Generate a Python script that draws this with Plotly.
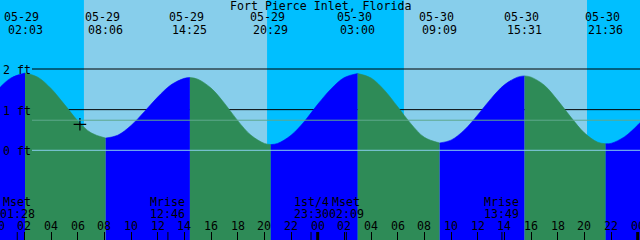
import plotly.graph_objects as go

# ---------------- data ----------------
title_text = "Fort Pierce Inlet, Florida"

# tide extremes
tide_dates = ["05-29", "05-29", "05-29", "05-29", "05-30", "05-30", "05-30", "05-30"]
tide_times = ["02:03", "08:06", "14:25", "20:29", "03:00", "09:09", "15:31", "21:36"]
tide_heights = [1.90, 0.30, 1.79, 0.14, 1.89, 0.18, 1.83, 0.16]

# hourly water level readings (hours since 05-29 00:00, feet)
level_hours = [-1, 0, 1, 2, 3, 4, 5, 6, 7, 8, 9, 10, 11, 12, 13, 14, 15, 16, 17, 18,
               19, 20, 21, 22, 23, 24, 25, 26, 27, 28, 29, 30, 31, 32, 33, 34, 35, 36,
               37, 38, 39, 40, 41, 42, 43, 44, 45, 46, 47, 48, 48.5]
level_feet = [1.10, 1.49, 1.78, 1.90, 1.80, 1.52, 1.13, 0.73, 0.43, 0.30, 0.37, 0.61,
              0.95, 1.31, 1.61, 1.77, 1.75, 1.53, 1.16, 0.73, 0.37, 0.17, 0.17, 0.37,
              0.71, 1.13, 1.51, 1.79, 1.89, 1.78, 1.48, 1.07, 0.65, 0.32, 0.18, 0.25,
              0.50, 0.87, 1.27, 1.61, 1.80, 1.80, 1.60, 1.23, 0.81, 0.43, 0.20, 0.17,
              0.33, 0.62, 0.80]

# current time / level marker
now_time = "05-29 06:10"
now_level = 0.64

# sun events (sunrise, sunset, sunrise, sunset)
sun_times = ["05-29 06:28", "05-29 20:13", "05-30 06:28", "05-30 20:12"]

# moon events
moon_labels = ["Mset", "Mrise", "1st/4", "Mset", "Mrise"]
moon_times = ["05-29 01:28", "05-29 12:46", "05-29 23:30", "05-30 02:09", "05-30 13:49"]

# axis ticks
tick_hours = list(range(0, 49, 2))
tick_labels = ["00", "02", "04", "06", "08", "10", "12", "14", "16", "18", "20", "22",
               "00", "02", "04", "06", "08", "10", "12", "14", "16", "18", "20", "22", "00"]
midnight_hours = [0, 24, 48]

# level reference lines
ft_levels = [2, 1, 0]
ft_labels = ["2 ft", "1 ft", "0 ft"]
msl_level = 0.74

# ---------------- helpers / style ----------------
W, H = 640, 240
PXH = 13.333          # pixels per hour
X0PX = -2.3           # pixel of 05-29 00:00
x_range = [(0 - X0PX) / PXH, (W - X0PX) / PXH]
PXF = 40.65           # pixels per foot
Y0PX = 150.3          # pixel of 0 ft
y_range = [(Y0PX - H) / PXF, Y0PX / PXF]

NIGHT = "#00BFFF"
DAY = "#87CEEB"
FLOOD = "#0000FF"
EBB = "#2E8B57"
FONT = "DejaVu Sans Mono"
FS = 11.6


def hours(stamp):
    d, t = stamp.split(" ")
    day = int(d.split("-")[1]) - 29
    hh, mm = t.split(":")
    return day * 24 + int(hh) + int(mm) / 60.0


def ypaper(px):
    return 1 - px / H


def xpaper(h):
    return (h - x_range[0]) / (x_range[1] - x_range[0])


ext_hours = [hours(d + " " + t) for d, t in zip(tide_dates, tide_times)]

# merge readings with extremes
pts = {}
for h, v in zip(level_hours, level_feet):
    if all(abs(h - e) > 0.2 for e in ext_hours):
        pts[h] = v
for h, v in zip(ext_hours, tide_heights):
    pts[h] = v
xs = sorted(pts)

fig = go.Figure()

# sky bands
sun_h = [hours(s) for s in sun_times]
bounds = [x_range[0] - 1] + sun_h + [x_range[1] + 1]
shapes = []
for i in range(len(bounds) - 1):
    shapes.append(dict(type="rect", xref="x", yref="paper", x0=bounds[i], x1=bounds[i + 1],
                       y0=0, y1=1, fillcolor=NIGHT if i % 2 == 0 else DAY,
                       line=dict(width=0), layer="below"))
# black level lines (behind the water)
for lv in ft_levels[:2]:
    shapes.append(dict(type="line", xref="paper", yref="y", x0=32 / W, x1=1, y0=lv, y1=lv,
                       line=dict(color="black", width=1), layer="below"))

# water fill segments
seg_bounds = [xs[0]] + ext_hours + [xs[-1]]
base = y_range[0] - 0.5
for i in range(len(seg_bounds) - 1):
    a, b = seg_bounds[i], seg_bounds[i + 1]
    sx = [x for x in xs if a - 1e-9 <= x <= b + 1e-9]
    sy = [pts[x] for x in sx]
    col = FLOOD if sy[-1] > sy[0] else EBB
    fig.add_trace(go.Scatter(x=[a, b], y=[base, base], mode="lines",
                             line=dict(width=0), hoverinfo="skip", showlegend=False))
    fig.add_trace(go.Scatter(x=sx, y=sy, mode="lines", fill="tonexty", fillcolor=col,
                             line=dict(width=0.6, color=col, shape="spline"),
                             hoverinfo="skip", showlegend=False))

# current marker
fig.add_trace(go.Scatter(x=[hours(now_time)], y=[now_level], mode="markers",
                         marker=dict(symbol="cross-thin", size=9,
                                     line=dict(color="black", width=1.2)),
                         hoverinfo="skip", showlegend=False))

# light lines over the water
shapes.append(dict(type="line", xref="paper", yref="y", x0=32 / W, x1=1, y0=msl_level,
                   y1=msl_level, line=dict(color="#5FA88C", width=1), layer="above"))
shapes.append(dict(type="line", xref="paper", yref="y", x0=32 / W, x1=1, y0=ft_levels[2],
                   y1=ft_levels[2], line=dict(color="#87CEEB", width=1), layer="above"))

# moon event ticks and midnight ticks
for t in moon_times:
    h = hours(t)
    shapes.append(dict(type="line", xref="x", yref="paper", x0=h, x1=h, y0=0, y1=8 / H,
                       line=dict(color="black", width=1), layer="above"))
for h in midnight_hours:
    shapes.append(dict(type="line", xref="x", yref="paper", x0=h, x1=h, y0=0, y1=8 / H,
                       line=dict(color="black", width=3), layer="above"))

ann = []
fnt = dict(family=FONT, size=FS, color="black")
ann.append(dict(text=title_text, x=0.5, xref="paper", y=ypaper(6), yref="paper",
                showarrow=False, font=fnt, xanchor="center", yanchor="middle"))
for d, t, h in zip(tide_dates, tide_times, ext_hours):
    ann.append(dict(text=d, x=h, xref="x", y=ypaper(17.5), yref="paper", xshift=-3.5,
                    showarrow=False, font=fnt, xanchor="center", yanchor="middle"))
    ann.append(dict(text=t, x=h, xref="x", y=ypaper(29.5), yref="paper",
                    showarrow=False, font=fnt, xanchor="center", yanchor="middle"))
for lab, t in zip(moon_labels, moon_times):
    h = hours(t)
    ann.append(dict(text=lab, x=h, xref="x", y=ypaper(202), yref="paper",
                    showarrow=False, font=fnt, xanchor="center", yanchor="middle"))
    ann.append(dict(text=t.split(" ")[1], x=h, xref="x", y=ypaper(214), yref="paper",
                    showarrow=False, font=fnt, xanchor="center", yanchor="middle"))
for lv, lab in zip(ft_levels, ft_labels):
    ann.append(dict(text=lab, x=1 / W, xref="paper", y=lv, yref="y", yshift=-1,
                    showarrow=False, font=fnt, xanchor="left", yanchor="middle"))
# hour labels placed in paper coordinates so the partly visible edge ones still show
for h, lab in zip(tick_hours, tick_labels):
    ann.append(dict(text=lab, x=xpaper(h), xref="paper", y=ypaper(226), yref="paper",
                    showarrow=False, font=fnt, xanchor="center", yanchor="middle"))

fig.update_layout(
    width=W, height=H, margin=dict(l=0, r=0, t=0, b=0),
    paper_bgcolor=NIGHT, plot_bgcolor=NIGHT,
    shapes=shapes, annotations=ann, showlegend=False,
    xaxis=dict(range=x_range, showgrid=False, zeroline=False, showline=False,
               tickmode="array", tickvals=tick_hours, ticktext=[""] * len(tick_hours),
               ticks="inside", ticklen=8, tickcolor="black", tickwidth=1,
               showticklabels=False, fixedrange=True),
    yaxis=dict(range=y_range, visible=False, fixedrange=True),
)

fig.write_html("out.html")
